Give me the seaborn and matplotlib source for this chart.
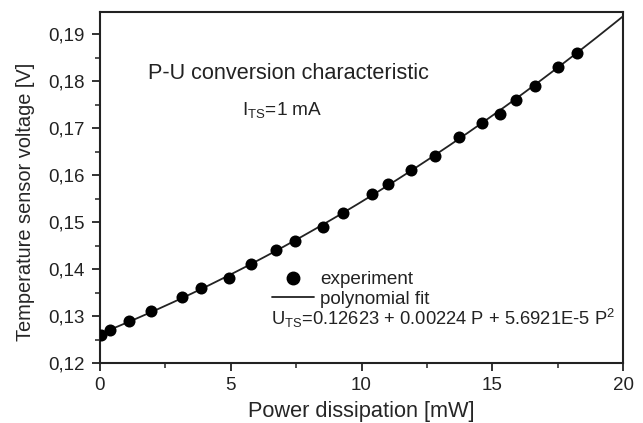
import numpy as np
import matplotlib
matplotlib.use("Agg")
import matplotlib.pyplot as plt
import seaborn as sns
from matplotlib.lines import Line2D
from matplotlib.ticker import MultipleLocator, FuncFormatter

# -----------------------------------
# Data
# -----------------------------------

power_mw = [0.03, 0.38, 1.1, 1.95, 3.13, 3.87, 4.94, 5.78, 6.74, 7.46,
            8.54, 9.31, 10.39, 11.01, 11.9, 12.82, 13.72, 14.61, 15.31,
            15.91, 16.62, 17.52, 18.22]
voltage_v = [0.126, 0.127, 0.129, 0.131, 0.134, 0.136, 0.138, 0.141, 0.144,
             0.146, 0.149, 0.152, 0.156, 0.158, 0.161, 0.164, 0.168, 0.171,
             0.173, 0.176, 0.179, 0.183, 0.186]

# polynomial fit coefficients printed on the chart
fit_coeffs = [0.12623, 0.00224, 5.6921e-5]
fit_range = [0, 20]

# -----------------------------------
# Style
# -----------------------------------

sns.set_style("ticks")
plt.rcParams["font.family"] = ["Liberation Sans", "DejaVu Sans"]
plt.rcParams["mathtext.fontset"] = "custom"
plt.rcParams["mathtext.rm"] = "Liberation Sans"
plt.rcParams["mathtext.it"] = "Liberation Sans"
plt.rcParams["text.color"] = "#222222"

fig = plt.figure(figsize=(6.43, 4.23), dpi=100)
ax = fig.add_axes([0.1555, 0.1418, 0.8135, 0.8298])

# -----------------------------------
# Fit line + experiment points
# -----------------------------------

p_fit = np.linspace(fit_range[0], fit_range[1], 200)
u_fit = fit_coeffs[0] + fit_coeffs[1] * p_fit + fit_coeffs[2] * p_fit ** 2

sns.lineplot(x=p_fit, y=u_fit, ax=ax, color="#222222", linewidth=1.3)
sns.scatterplot(x=power_mw, y=voltage_v, ax=ax, color="black",
                s=75, edgecolor="black", linewidth=0, zorder=3)

# -----------------------------------
# Axes
# -----------------------------------

ax.set_xlim(0, 20)
ax.set_ylim(0.12, 0.1947)
ax.xaxis.set_major_locator(MultipleLocator(5))
ax.xaxis.set_minor_locator(MultipleLocator(2.5))
ax.yaxis.set_major_locator(MultipleLocator(0.01))
ax.yaxis.set_minor_locator(MultipleLocator(0.005))
ax.yaxis.set_major_formatter(
    FuncFormatter(lambda v, pos: f"{v:.2f}".replace(".", ",")))

ax.tick_params(which="major", direction="out", length=6, width=1.3,
               labelsize=13.5, colors="#222222", pad=4)
ax.tick_params(axis="y", which="major", pad=5)
ax.tick_params(which="minor", direction="out", length=3.5, width=1.1,
               colors="#222222")
for side in ax.spines.values():
    side.set_linewidth(1.5)
    side.set_color("#222222")

ax.set_xlabel("Power dissipation [mW]", fontsize=15.7, labelpad=5)
ax.set_ylabel("Temperature sensor voltage [V]", fontsize=14.4)
ax.yaxis.set_label_coords(-0.124, 0.46)

# -----------------------------------
# Annotations
# -----------------------------------

ax.text(1.84, 0.1817, "P-U conversion characteristic", fontsize=15.6,
        va="center", ha="left")
ax.text(5.43, 0.1738, r"I$_{\mathrm{TS}}$=1 mA", fontsize=13.7,
        va="center", ha="left")

handles = [
    Line2D([], [], marker="o", linestyle="none", color="black",
           markersize=9),
    Line2D([], [], color="#222222", linewidth=1.3),
]
ax.legend(handles, ["experiment", "polynomial fit"], loc="upper left",
          bbox_to_anchor=(0.329, 0.262), frameon=False, fontsize=13.6,
          handlelength=2.2, handletextpad=0.33, labelspacing=0.12,
          borderpad=0, borderaxespad=0)

ax.text(6.55, 0.1294,
        r"U$_{\mathrm{TS}}$=0.12623 + 0.00224 P + 5.6921E-5 P$^{2}$",
        fontsize=13.2, va="center", ha="left")

plt.savefig("out.png", dpi=100)
plt.close()
